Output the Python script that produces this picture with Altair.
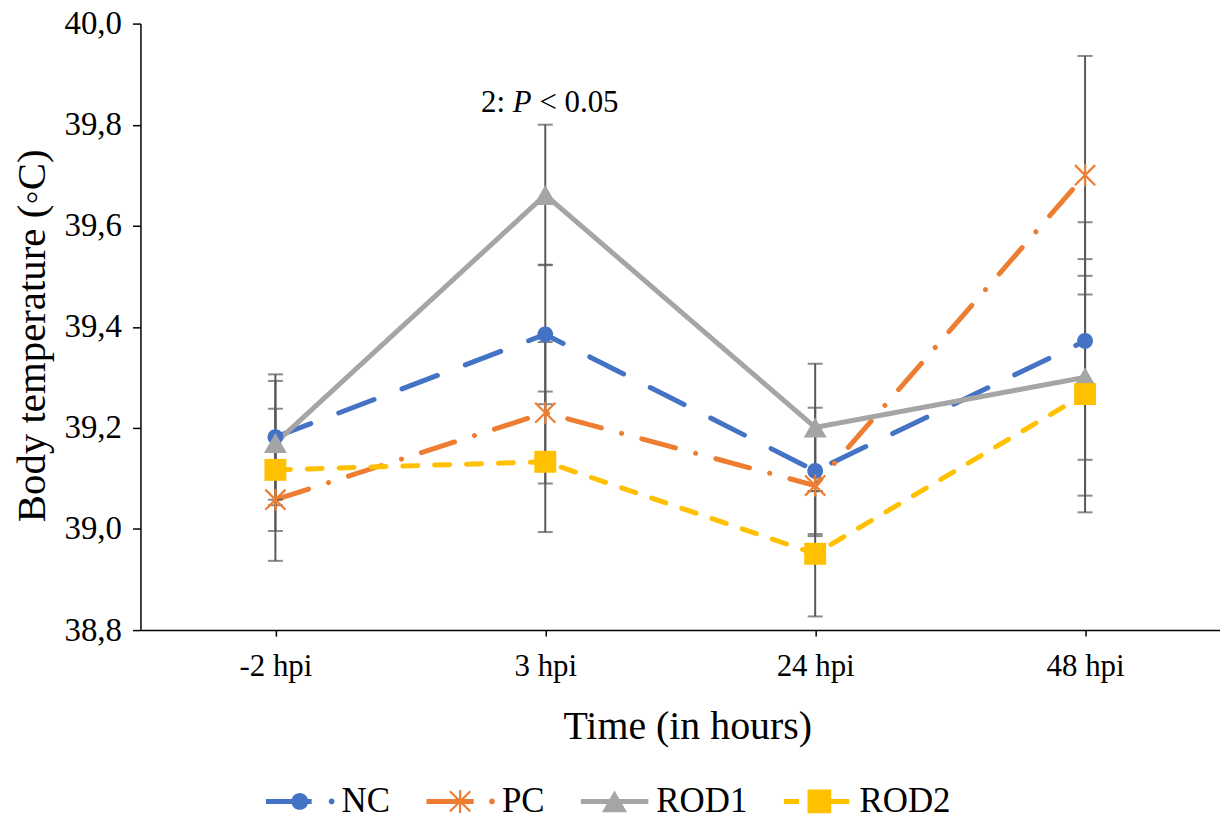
import altair as alt
import pandas as pd

# ---------------- data ----------------
times = ["-2 hpi", "3 hpi", "24 hpi", "48 hpi"]
series = ["NC", "PC", "ROD1", "ROD2"]

nc_mean = [39.182, 39.385, 39.115, 39.372]
nc_sd = [0.124, 0.138, 0.125, 0.235]
pc_mean = [39.058, 39.230, 39.086, 39.700]
pc_sd = [0.121, 0.140, 0.100, 0.236]
rod1_mean = [39.170, 39.661, 39.201, 39.300]
rod1_sd = [0.123, 0.139, 0.126, 0.234]
rod2_mean = [39.117, 39.133, 38.951, 39.267]
rod2_sd = [0.121, 0.139, 0.124, 0.234]

y_ticks = [38.8, 39.0, 39.2, 39.4, 39.6, 39.8, 40.0]

annot_time = ["3 hpi"]
annot_value = [39.825]
annot_parts = ["2:", "P", "< 0.05"]

# ---------------- styles ----------------
colors = ["#4472C4", "#ED7D31", "#A5A5A5", "#FFC000"]
dashes = [[38, 30], [35, 21, 0.01, 21], [1, 0], [15, 17]]
FONT = "Liberation Serif, Times New Roman, serif"


def bar(x1, y1, x2, y2, t):
    dx, dy = x2 - x1, y2 - y1
    L = (dx * dx + dy * dy) ** 0.5
    nx, ny = dy / L * t, -dx / L * t
    pts = [(x1 + nx, y1 + ny), (x2 + nx, y2 + ny), (x2 - nx, y2 - ny), (x1 - nx, y1 - ny)]
    return "M" + "L".join(f"{x:.4f},{y:.4f}" for x, y in pts) + "Z"


def circ(cx, r):
    return f"M{cx + r:.4f},0A{r:.4f} {r:.4f} 0 1 1 {cx - r:.4f},0A{r:.4f} {r:.4f} 0 1 1 {cx + r:.4f},0Z"


def square(cx, a):
    return f"M{cx - a:.4f},{-a:.4f}H{cx + a:.4f}V{a:.4f}H{cx - a:.4f}Z"


def tri(cx, r, h):
    return f"M{cx:.4f},{-h:.4f}L{cx + r:.4f},{h:.4f}L{cx - r:.4f},{h:.4f}Z"


def star(cx, s, v, t):
    return bar(cx - s, -s, cx + s, s, t) + bar(cx - s, s, cx + s, -s, t) + bar(cx, -v, cx, v, t)


marker_paths = [
    circ(0, 0.72),
    star(0, 0.92, 1.0, 0.1),
    tri(0, 1.05, 0.91),
    square(0, 1.0),
]

tl = 0.0735
legend_paths = [
    bar(-1, 0, 0.35, 0, tl) + circ(0, 0.25) + circ(0.94, 0.085),
    bar(-1, 0, 0.4, 0, tl) + star(0, 0.3, 0.34, 0.032) + circ(0.94, 0.085),
    bar(-1, 0, 1, 0, tl) + tri(0, 0.37, 0.32),
    bar(-1, 0, -0.55, 0, tl) + square(0.05, 0.35) + bar(0.35, 0, 0.93, 0, tl),
]

# ---------------- table ----------------
rows = []
for s, means, sds in zip(series, [nc_mean, pc_mean, rod1_mean, rod2_mean],
                         [nc_sd, pc_sd, rod1_sd, rod2_sd]):
    for t, m, sd in zip(times, means, sds):
        rows.append({"time": t, "series": s, "mean": m, "lo": m - sd, "hi": m + sd})
df = pd.DataFrame(rows)
annot_df = pd.DataFrame({"time": annot_time, "value": annot_value})

x_axis = alt.Axis(
    title="Time (in hours)", titleFont=FONT, titleFontSize=40, titleX=549, titleY=109,
    titleBaseline="alphabetic", titleAlign="center", titleFontWeight="normal",
    labelFont=FONT, labelFontSize=31, labelBaseline="alphabetic", labelPadding=40, labelAngle=0,
    tickSize=6, tickWidth=1.5, domainWidth=1.5,
)
y_axis = alt.Axis(
    title="Body temperature (\u25e6C)", titleFont=FONT, titleFontSize=41, titleX=-96, titleY=313,
    titleBaseline="alphabetic", titleAlign="center", titleFontWeight="normal",
    values=y_ticks, labelExpr="replace(format(datum.value, '.1f'), '.', ',')",
    labelFont=FONT, labelFontSize=33, labelPadding=11, tickSize=8, tickWidth=1.5, domainWidth=1.5,
)

x_scale = alt.Scale(type="point", padding=0.5)
y_scale = alt.Scale(domain=[38.8, 40.0], nice=False, zero=False)


def X():
    return alt.X("time:N", sort=times, scale=x_scale, axis=x_axis)


def Y(field):
    return alt.Y(field, scale=y_scale, axis=y_axis)


color = alt.Color("series:N", scale=alt.Scale(domain=series, range=colors), legend=None)

lines = alt.Chart(df).mark_line(strokeWidth=5, strokeCap="round", strokeJoin="round").encode(
    x=X(), y=Y("mean:Q"), color=color,
    strokeDash=alt.StrokeDash("series:N", scale=alt.Scale(domain=series, range=dashes), legend=None),
)

err_rule = alt.Chart(df).mark_rule(color="#595959", strokeWidth=2).encode(
    x=X(), y=Y("lo:Q"), y2="hi:Q"
)
err_lo = alt.Chart(df).mark_tick(color="#595959", orient="horizontal", size=15, thickness=2).encode(
    x=X(), y=Y("lo:Q")
)
err_hi = alt.Chart(df).mark_tick(color="#595959", orient="horizontal", size=15, thickness=2).encode(
    x=X(), y=Y("hi:Q")
)

points = alt.Chart(df).mark_point(filled=True, opacity=1, size=484, strokeWidth=0).encode(
    x=X(), y=Y("mean:Q"), color=color,
    shape=alt.Shape("series:N", scale=alt.Scale(domain=series, range=marker_paths), legend=None),
)

leg = alt.Legend(
    title=None, orient="none", legendX=126, legendY=759, direction="horizontal", columns=4,
    symbolSize=4624, symbolStrokeWidth=0, symbolOpacity=1, symbolOffset=0,
    labelFont=FONT, labelFontSize=35, labelColor="black", labelOffset=8, labelLimit=400,
    columnPadding=36, clipHeight=44, padding=0,
)
legend_layer = alt.Chart(df).transform_filter("false").mark_point(filled=True, opacity=1).encode(
    fill=alt.Fill("series:N", scale=alt.Scale(domain=series, range=colors), legend=leg),
    shape=alt.Shape("series:N", scale=alt.Scale(domain=series, range=legend_paths), legend=leg),
)

txt_common = dict(font=FONT, fontSize=31, baseline="alphabetic", align="left", color="black")
t1 = alt.Chart(annot_df).mark_text(dx=-64.5, **txt_common).encode(
    x=X(), y=Y("value:Q"), text=alt.value(annot_parts[0]))
t2 = alt.Chart(annot_df).mark_text(dx=-32.6, fontStyle="italic", **txt_common).encode(
    x=X(), y=Y("value:Q"), text=alt.value(annot_parts[1]))
t3 = alt.Chart(annot_df).mark_text(dx=-5.9, **txt_common).encode(
    x=X(), y=Y("value:Q"), text=alt.value(annot_parts[2]))

chart = alt.layer(lines, err_rule, err_lo, err_hi, points, t1, t2, t3, legend_layer).resolve_scale(
    shape="independent", fill="independent"
).properties(
    width=1084, height=609,
    padding={"left": 133, "top": 14, "right": 0, "bottom": 183},
    autosize=alt.AutoSizeParams(type="none"),
    background="white",
).configure_axis(
    domainColor="black", tickColor="black", labelColor="black", titleColor="black",
    labelFont=FONT, titleFont=FONT, titleFontWeight="normal", grid=False,
).configure_text(font=FONT).configure_legend(labelFont=FONT).configure_view(stroke=None)

chart.save("out.html", embed_options={"renderer": "svg", "actions": False})
